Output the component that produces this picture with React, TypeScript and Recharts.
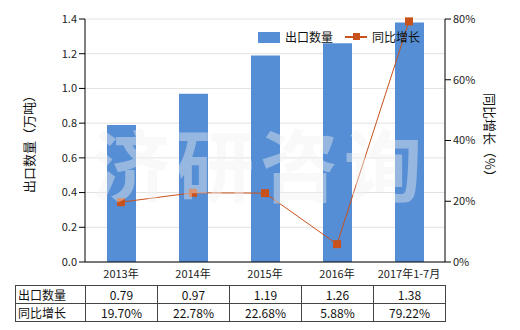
import React from 'react';
import { ComposedChart, Bar, Line, XAxis, YAxis, CartesianGrid } from 'recharts';

const categories = ['2013年', '2014年', '2015年', '2016年', '2017年1-7月'];
const exportQty = [0.79, 0.97, 1.19, 1.26, 1.38];
const growth = [19.7, 22.78, 22.68, 5.88, 79.22];
const leftTicks = [0, 0.2, 0.4, 0.6, 0.8, 1.0, 1.2, 1.4];
const rightTicks = [0, 20, 40, 60, 80];
const seriesNames = ['出口数量', '同比增长'];

const data = categories.map((c, i) => ({ name: c, qty: exportQty[i], growth: growth[i] }));

const FONT = '"Noto Sans CJK SC", "Noto Sans", sans-serif';
const BAR_COLOR = '#558ed5';
const LINE_COLOR = '#c9511b';

const SquareDot = (props: any) => {
  const { cx, cy } = props;
  if (cx == null || cy == null) return null;
  return <rect x={cx - 4} y={cy - 4} width={8} height={8} fill={LINE_COLOR} />;
};

export default function App() {
  const cellStyle: React.CSSProperties = {
    border: '1px solid #444',
    textAlign: 'center',
    padding: 0,
    height: 17,
    fontSize: 12,
    color: '#111',
  };
  return (
    <div style={{ position: 'absolute', left: 0, top: 0, width: 520, height: 330, background: '#fff', fontFamily: FONT, overflow: 'hidden' }}>
      <ComposedChart width={520} height={330} data={data} margin={{ top: 19, right: 0, bottom: 38, left: 0 }}>
        <CartesianGrid yAxisId="left" horizontal vertical={false} stroke="#e2e2e2" />
        <XAxis
          dataKey="name"
          height={30}
          tickLine={false}
          axisLine={{ stroke: '#000' }}
          tick={{ fontSize: 11, fill: '#222', fontFamily: FONT }}
          interval={0}
        />
        <YAxis
          yAxisId="left"
          width={85}
          domain={[0, 1.4]}
          ticks={leftTicks}
          tickFormatter={(v: number) => v.toFixed(1)}
          axisLine={{ stroke: '#000' }}
          tickLine={{ stroke: '#000' }}
          tick={{ fontSize: 11, fill: '#222', fontFamily: FONT }}
        />
        <YAxis
          yAxisId="right"
          orientation="right"
          width={75}
          domain={[0, 80]}
          ticks={rightTicks}
          tickFormatter={(v: number) => `${v}%`}
          axisLine={{ stroke: '#000' }}
          tickLine={{ stroke: '#000' }}
          tick={{ fontSize: 11, fill: '#222', fontFamily: FONT }}
        />
        <Bar yAxisId="left" dataKey="qty" fill={BAR_COLOR} barSize={29} isAnimationActive={false} />
        <Line
          yAxisId="right"
          dataKey="growth"
          stroke={LINE_COLOR}
          strokeWidth={1}
          dot={<SquareDot />}
          activeDot={false}
          isAnimationActive={false}
        />
      </ComposedChart>

      {/* axis titles */}
      <div style={{ position: 'absolute', left: 28, top: 141, transform: 'translate(-50%,-50%) rotate(-90deg)', fontSize: 13, whiteSpace: 'nowrap', color: '#111' }}>
        出口数量（万吨）
      </div>
      <div style={{ position: 'absolute', left: 490, top: 138, transform: 'translate(-50%,-50%) rotate(90deg)', fontSize: 13, whiteSpace: 'nowrap', color: '#111' }}>
        同比增长（%）
      </div>

      {/* legend */}
      <div style={{ position: 'absolute', left: 258, top: 32, width: 22, height: 11, background: BAR_COLOR }} />
      <div style={{ position: 'absolute', left: 285, top: 28, fontSize: 12, lineHeight: '18px', color: '#111' }}>{seriesNames[0]}</div>
      <div style={{ position: 'absolute', left: 345, top: 36, width: 22, height: 2, background: LINE_COLOR }} />
      <div style={{ position: 'absolute', left: 353, top: 33, width: 7, height: 7, background: LINE_COLOR }} />
      <div style={{ position: 'absolute', left: 372, top: 28, fontSize: 12, lineHeight: '18px', color: '#111' }}>{seriesNames[1]}</div>

      {/* watermark */}
      <div style={{ position: 'absolute', left: 92, top: 112, fontSize: 78, fontWeight: 700, color: 'rgba(240,240,240,0.42)', letterSpacing: 6, whiteSpace: 'nowrap', pointerEvents: 'none', lineHeight: '100px' }}>
        济研咨询
      </div>

      {/* data table */}
      <table style={{ position: 'absolute', left: 15, top: 285, borderCollapse: 'collapse', fontFamily: FONT, tableLayout: 'fixed' }}>
        <colgroup>
          <col style={{ width: 70 }} />
          {categories.map((c) => (
            <col key={c} style={{ width: 72 }} />
          ))}
        </colgroup>
        <tbody>
          <tr>
            <td style={{ ...cellStyle, textAlign: 'left', paddingLeft: 2 }}>{seriesNames[0]}</td>
            {exportQty.map((v, i) => (
              <td key={i} style={cellStyle}>{v.toFixed(2)}</td>
            ))}
          </tr>
          <tr>
            <td style={{ ...cellStyle, textAlign: 'left', paddingLeft: 2 }}>{seriesNames[1]}</td>
            {growth.map((v, i) => (
              <td key={i} style={cellStyle}>{v.toFixed(2)}%</td>
            ))}
          </tr>
        </tbody>
      </table>
    </div>
  );
}
